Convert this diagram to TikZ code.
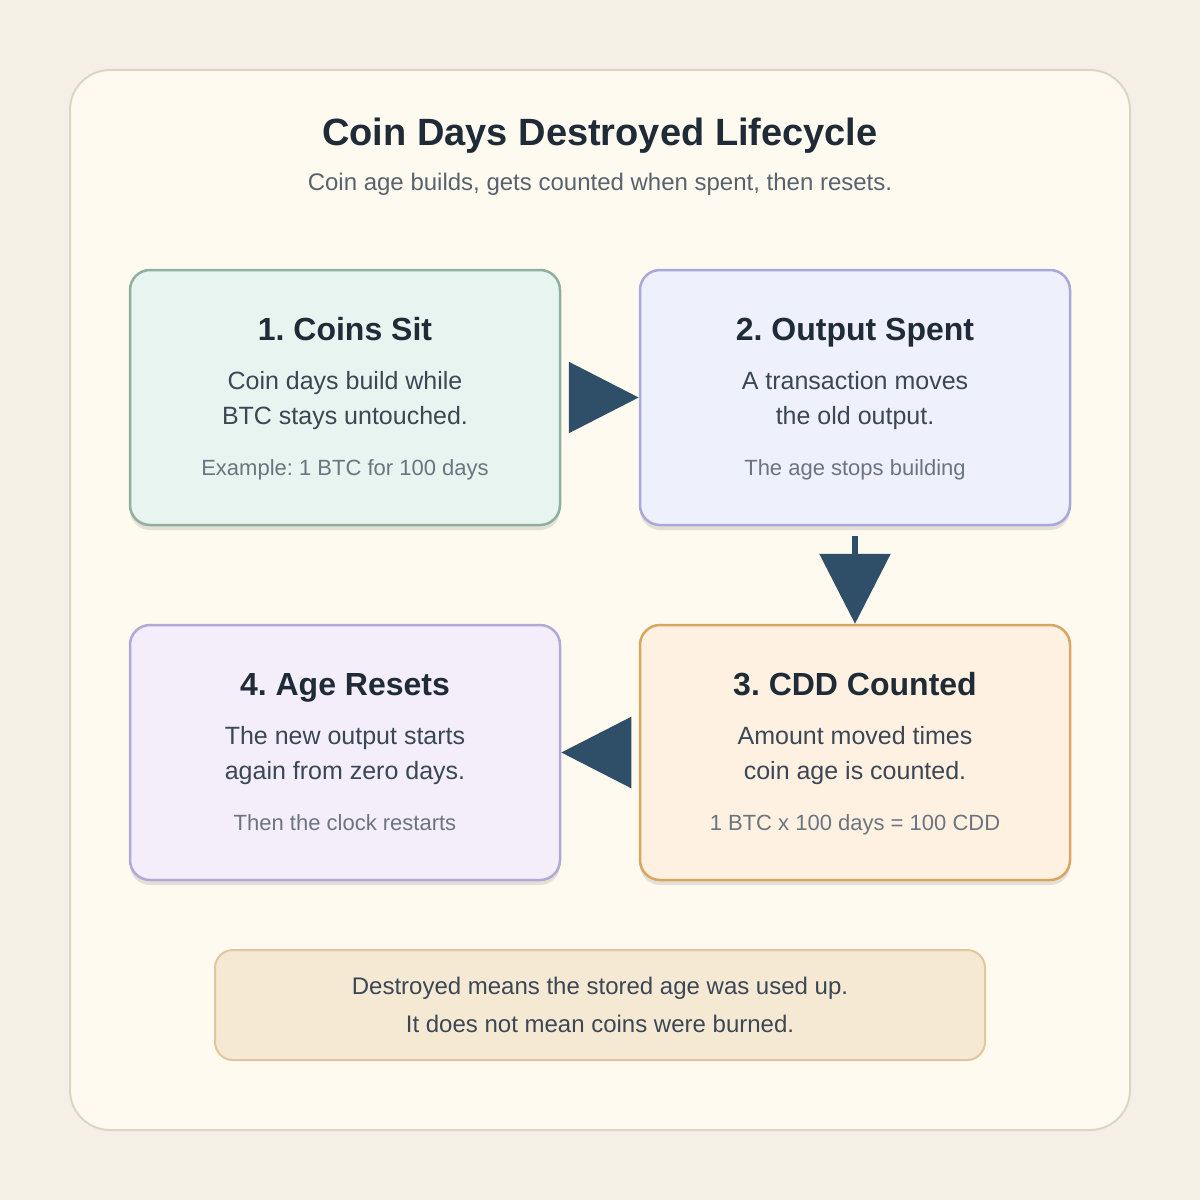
\documentclass[tikz,border=0pt]{standalone}
\usepackage{fontspec}
\setmainfont{Liberation Sans}
\frenchspacing
\usetikzlibrary{positioning, arrows.meta, shadows}

\definecolor{pagebg}{HTML}{F4F0E6}
\definecolor{panelfill}{HTML}{FEFAF0}
\definecolor{panelline}{HTML}{DDD4C4}
\definecolor{ink}{HTML}{1F2B37}
\definecolor{bodyc}{HTML}{3B4754}
\definecolor{mutedc}{HTML}{6B7480}
\definecolor{sitfill}{HTML}{E8F4EF}
\definecolor{sitline}{HTML}{8FAF9F}
\definecolor{spentfill}{HTML}{EEF0FC}
\definecolor{spentline}{HTML}{A9A8D8}
\definecolor{cddfill}{HTML}{FFF1E1}
\definecolor{cddline}{HTML}{D8A660}
\definecolor{resetfill}{HTML}{F3EEFA}
\definecolor{resetline}{HTML}{B1A9D8}
\definecolor{notefill}{HTML}{F6E9D4}
\definecolor{noteline}{HTML}{E2C79D}
\definecolor{arrowc}{HTML}{2F4E67}

\begin{document}
\begin{tikzpicture}[x=1pt, y=-1pt,
  panel/.style={draw=panelline, fill=panelfill, line width=2pt, rounded corners=40pt,
    minimum width=1060pt, minimum height=1060pt, inner sep=0pt},
  card/.style={rounded corners=20pt, line width=2.5pt, minimum width=430pt,
    minimum height=255pt, inner sep=0pt,
    drop shadow={shadow xshift=0pt, shadow yshift=-5pt, opacity=0.10, fill=black}},
  cardhead/.style={anchor=base, font=\fontsize{32}{36}\selectfont\bfseries, text=ink},
  cardbody/.style={font=\fontsize{25}{35}\selectfont, text=bodyc, align=center},
  cardnote/.style={anchor=base, font=\fontsize{22}{26}\selectfont, text=mutedc},
  notebox/.style={draw=noteline, fill=notefill, line width=2pt, rounded corners=18pt,
    minimum width=770pt, minimum height=110pt, align=center, text=bodyc,
    font=\fontsize{24}{38}\selectfont},
  flow/.style={draw=arrowc, line width=6pt, shorten <=10pt,
    -{Triangle[length=70pt, width=70pt]}}]

  \fill[pagebg] (0,0) rectangle (1200,1200);
  \useasboundingbox (0,0) rectangle (1200,1200);

  \node[panel] (panel) at (600,600) {};
  \node[anchor=base, font=\fontsize{38}{42}\selectfont\bfseries, text=ink] (title)
    at (600,145.5) {Coin Days Destroyed Lifecycle};
  \node[anchor=base, font=\fontsize{24}{28}\selectfont, text=bodyc!85!white] (subtitle)
    at (600,190.5) {Coin age builds, gets counted when spent, then resets.};

  % the four stages
  \node[card, draw=sitline, fill=sitfill] (sit) at (345,397.5) {};
  \node[card, draw=spentline, fill=spentfill] (spent) at (855,397.5) {};
  \node[card, draw=cddline, fill=cddfill] (cdd) at (855,752.5) {};
  \node[card, draw=resetline, fill=resetfill] (reset) at (345,752.5) {};

  \node[cardhead] (sithead) at (345,340.5) {1. Coins Sit};
  \node[cardbody] (sitbody) at (345,400.5) {Coin days build while\\BTC stays untouched.};
  \node[cardnote] (sitnote) at (345,475) {Example: 1 BTC for 100 days};

  \node[cardhead] (spenthead) at (855,340.5) {2. Output Spent};
  \node[cardbody] (spentbody) at (855,400.5) {A transaction moves\\the old output.};
  \node[cardnote] (spentnote) at (855,475) {The age stops building};

  \node[cardhead] (cddhead) at (855,695.5) {3. CDD Counted};
  \node[cardbody] (cddbody) at (855,755.5) {Amount moved times\\coin age is counted.};
  \node[cardnote] (cddnote) at (855,830) {1 BTC x 100 days = 100 CDD};

  \node[cardhead] (resethead) at (345,695.5) {4. Age Resets};
  \node[cardbody] (resetbody) at (345,755.5) {The new output starts\\again from zero days.};
  \node[cardnote] (resetnote) at (345,830) {Then the clock restarts};

  \draw[flow] (sit) -- (spent);
  \draw[flow] (spent) -- (cdd);
  \draw[flow] (cdd) -- (reset);

  \node[notebox] (remark) at (600,1005)
    {Destroyed means the stored age was used up.\\It does not mean coins were burned.};
\end{tikzpicture}
\end{document}
